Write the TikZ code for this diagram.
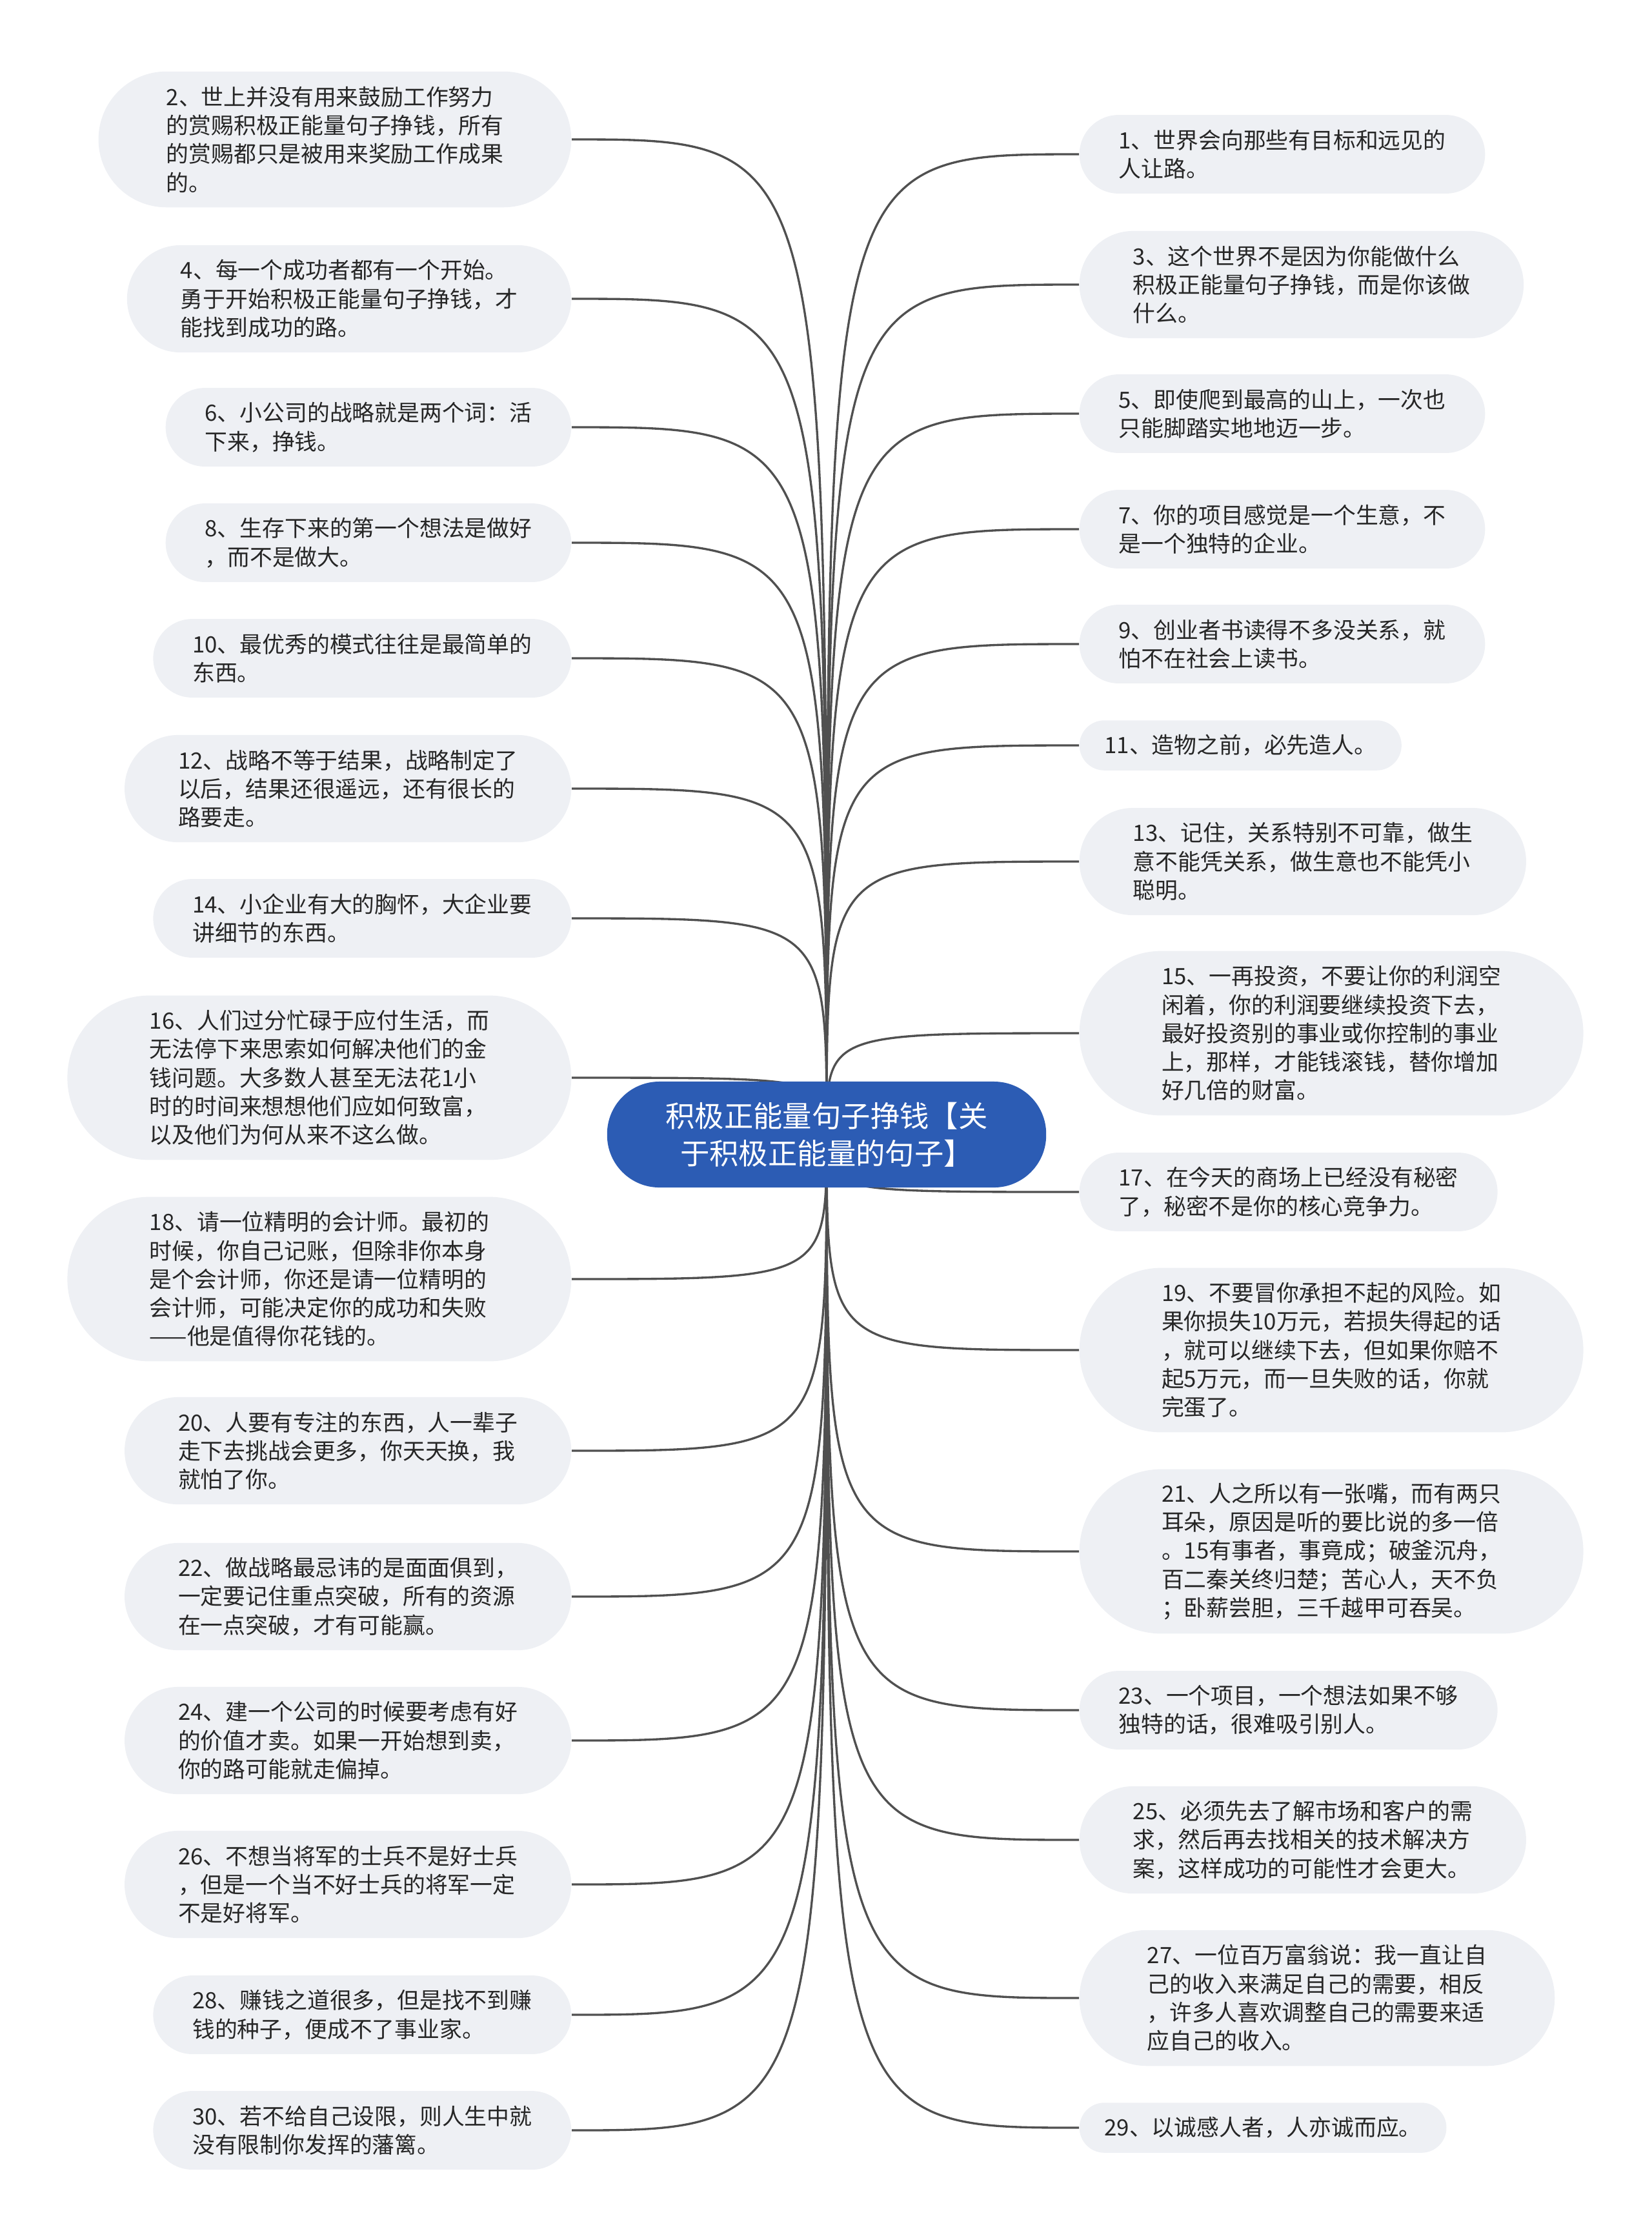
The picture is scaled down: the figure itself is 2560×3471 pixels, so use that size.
\documentclass[tikz,border=0pt]{standalone}
\usepackage{fontspec}
\setmainfont{Noto Sans CJK SC}
\usetikzlibrary{backgrounds}
\definecolor{hubblue}{HTML}{2C5CB4}
\definecolor{leafgray}{HTML}{EEF0F4}
\definecolor{inkgray}{HTML}{262626}
\definecolor{linkgray}{HTML}{505050}
\newcommand{\leaffont}{\fontsize{9.9pt}{12.6pt}\selectfont}
\newcommand{\hubfont}{\fontsize{12.9pt}{16.4pt}\selectfont}
\tikzset{
  pill/.style={rectangle,fill=leafgray,text=inkgray,font=\leaffont,align=left,
    rounded corners=0.165cm+#1*0.2215cm,inner xsep=0.166cm+#1*0.2215cm,
    inner ysep=0pt,minimum height=0.332cm+#1*0.443cm},
  hubpill/.style={rectangle,rounded corners=0.81cm,fill=hubblue,text=white,
    font=\hubfont,align=center,minimum width=6.8cm,minimum height=1.64cm},
  link/.style={line width=0.95pt,draw=linkgray}
}

\begin{document}
\begin{tikzpicture}[x=0.01cm,y=-0.01cm,
  lq/.style={pill=#1,anchor=east},rq/.style={pill=#1,anchor=west}]
\useasboundingbox (0,0) rectangle (2560,3471);
\node[hubpill] (root) at (1281,1758) {积极正能量句子挣钱【关\\于积极正能量的句子】};
\node[lq=4] (q2) at (886,216) {2、世上并没有用来鼓励工作努力\\的赏赐积极正能量句子挣钱，所有\\的赏赐都只是被用来奖励工作成果\\的。};
\node[lq=3] (q4) at (886,463) {4、每一个成功者都有一个开始。\\勇于开始积极正能量句子挣钱，才\\能找到成功的路。};
\node[lq=2] (q6) at (886,662) {6、小公司的战略就是两个词：活\\下来，挣钱。};
\node[lq=2] (q8) at (886,841) {8、生存下来的第一个想法是做好\\，而不是做大。};
\node[lq=2] (q10) at (886,1020) {10、最优秀的模式往往是最简单的\\东西。};
\node[lq=3] (q12) at (886,1222) {12、战略不等于结果，战略制定了\\以后，结果还很遥远，还有很长的\\路要走。};
\node[lq=2] (q14) at (886,1423) {14、小企业有大的胸怀，大企业要\\讲细节的东西。};
\node[lq=5] (q16) at (886,1670) {16、人们过分忙碌于应付生活，而\\无法停下来思索如何解决他们的金\\钱问题。大多数人甚至无法花1小\\时的时间来想想他们应如何致富，\\以及他们为何从来不这么做。};
\node[lq=5] (q18) at (886,1982) {18、请一位精明的会计师。最初的\\时候，你自己记账，但除非你本身\\是个会计师，你还是请一位精明的\\会计师，可能决定你的成功和失败\\——他是值得你花钱的。};
\node[lq=3] (q20) at (886,2248) {20、人要有专注的东西，人一辈子\\走下去挑战会更多，你天天换，我\\就怕了你。};
\node[lq=3] (q22) at (886,2474) {22、做战略最忌讳的是面面俱到，\\一定要记住重点突破，所有的资源\\在一点突破，才有可能赢。};
\node[lq=3] (q24) at (886,2697) {24、建一个公司的时候要考虑有好\\的价值才卖。如果一开始想到卖，\\你的路可能就走偏掉。};
\node[lq=3] (q26) at (886,2920) {26、不想当将军的士兵不是好士兵\\，但是一个当不好士兵的将军一定\\不是好将军。};
\node[lq=2] (q28) at (886,3122) {28、赚钱之道很多，但是找不到赚\\钱的种子，便成不了事业家。};
\node[lq=2] (q30) at (886,3301) {30、若不给自己设限，则人生中就\\没有限制你发挥的藩篱。};
\node[rq=2] (q1) at (1672,239) {1、世界会向那些有目标和远见的\\人让路。};
\node[rq=3] (q3) at (1672,441) {3、这个世界不是因为你能做什么\\积极正能量句子挣钱，而是你该做\\什么。};
\node[rq=2] (q5) at (1672,641) {5、即使爬到最高的山上，一次也\\只能脚踏实地地迈一步。};
\node[rq=2] (q7) at (1672,820) {7、你的项目感觉是一个生意，不\\是一个独特的企业。};
\node[rq=2] (q9) at (1672,998) {9、创业者书读得不多没关系，就\\怕不在社会上读书。};
\node[rq=1] (q11) at (1672,1155) {11、造物之前，必先造人。};
\node[rq=3] (q13) at (1672,1335) {13、记住，关系特别不可靠，做生\\意不能凭关系，做生意也不能凭小\\聪明。};
\node[rq=5] (q15) at (1672,1601) {15、一再投资，不要让你的利润空\\闲着，你的利润要继续投资下去，\\最好投资别的事业或你控制的事业\\上，那样，才能钱滚钱，替你增加\\好几倍的财富。};
\node[rq=2] (q17) at (1672,1847) {17、在今天的商场上已经没有秘密\\了，秘密不是你的核心竞争力。};
\node[rq=5] (q19) at (1672,2092) {19、不要冒你承担不起的风险。如\\果你损失10万元，若损失得起的话\\，就可以继续下去，但如果你赔不\\起5万元，而一旦失败的话，你就\\完蛋了。};
\node[rq=5] (q21) at (1672,2404) {21、人之所以有一张嘴，而有两只\\耳朵，原因是听的要比说的多一倍\\。15有事者，事竟成；破釜沉舟，\\百二秦关终归楚；苦心人，天不负\\；卧薪尝胆，三千越甲可吞吴。};
\node[rq=2] (q23) at (1672,2650) {23、一个项目，一个想法如果不够\\独特的话，很难吸引别人。};
\node[rq=3] (q25) at (1672,2851) {25、必须先去了解市场和客户的需\\求，然后再去找相关的技术解决方\\案，这样成功的可能性才会更大。};
\node[rq=4] (q27) at (1672,3096) {27、一位百万富翁说：我一直让自\\己的收入来满足自己的需要，相反\\，许多人喜欢调整自己的需要来适\\应自己的收入。};
\node[rq=1] (q29) at (1672,3297) {29、以诚感人者，人亦诚而应。};
\begin{scope}[on background layer]
\foreach \i in {2,4,...,30}
  \draw[link] (root.center) .. controls (root.center |- q\i.east) .. (q\i.east);
\foreach \i in {1,3,...,29}
  \draw[link] (root.center) .. controls (root.center |- q\i.west) .. (q\i.west);
\end{scope}
\end{tikzpicture}
\end{document}
